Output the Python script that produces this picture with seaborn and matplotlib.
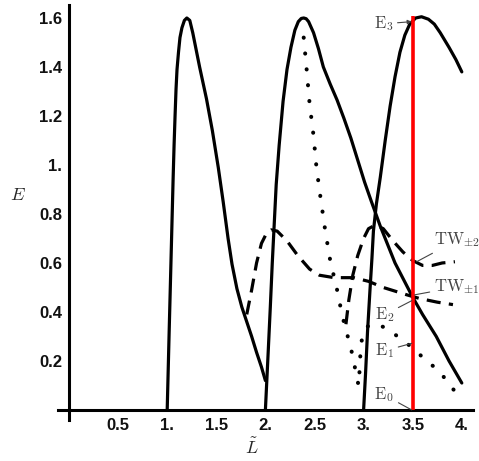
import matplotlib
matplotlib.use("Agg")
import matplotlib.pyplot as plt
import seaborn as sns

# solid branches
hump1_x = [1.0, 1.02, 1.04, 1.06, 1.07, 1.08, 1.09, 1.10, 1.115, 1.13, 1.15, 1.175, 1.20, 1.23,
           1.26, 1.33, 1.40, 1.46, 1.52, 1.57, 1.62, 1.66, 1.71, 1.76, 1.81, 1.86, 1.91, 1.96, 2.0]
hump1_y = [0.0, 0.32, 0.63, 0.94, 1.08, 1.20, 1.31, 1.39, 1.46, 1.52, 1.56, 1.59, 1.60, 1.59,
           1.54, 1.40, 1.27, 1.14, 0.99, 0.85, 0.70, 0.595, 0.495, 0.42, 0.36, 0.30, 0.235, 0.175, 0.12]

hump2_x = [2.0, 2.03, 2.05, 2.07, 2.09, 2.11, 2.14, 2.18, 2.22, 2.26, 2.30, 2.335, 2.365, 2.39,
           2.415, 2.44, 2.49, 2.54, 2.59, 2.66, 2.73, 2.80, 2.87, 2.94, 3.01, 3.08, 3.17, 3.24,
           3.32, 3.41, 3.5, 3.6, 3.74, 3.87, 4.0]
hump2_y = [0.0, 0.25, 0.42, 0.60, 0.76, 0.92, 1.08, 1.26, 1.39, 1.48, 1.55, 1.585, 1.598, 1.60,
           1.597, 1.585, 1.54, 1.475, 1.40, 1.33, 1.265, 1.19, 1.11, 1.02, 0.93, 0.85, 0.75, 0.68,
           0.60, 0.53, 0.46, 0.39, 0.30, 0.20, 0.11]

hump3_x = [3.0, 3.02, 3.04, 3.065, 3.085, 3.10, 3.13, 3.17, 3.22, 3.27, 3.32, 3.37, 3.42, 3.47,
           3.53, 3.59, 3.66, 3.72, 3.78, 3.87, 3.94, 4.0]
hump3_y = [0.0, 0.15, 0.32, 0.49, 0.62, 0.73, 0.84, 0.95, 1.10, 1.24, 1.36, 1.46, 1.53, 1.575,
           1.60, 1.605, 1.595, 1.575, 1.54, 1.48, 1.43, 1.38]

# dotted branch
dot_x = [2.39, 2.42, 2.45, 2.49, 2.52, 2.56, 2.61, 2.66, 2.73, 2.77, 2.81, 2.86, 2.90, 2.93, 2.95,
         2.96, 2.97, 2.99, 3.05, 3.12, 3.23, 3.38, 3.51, 3.64, 3.77, 3.87, 3.97, 4.0]
dot_y = [1.52, 1.39, 1.25, 1.12, 0.99, 0.87, 0.73, 0.61, 0.49, 0.41, 0.34, 0.27, 0.20, 0.13, 0.10,
         0.17, 0.25, 0.31, 0.345, 0.35, 0.335, 0.29, 0.25, 0.20, 0.16, 0.105, 0.057, 0.04]

# dashed travelling waves
tw1_x = [1.81, 1.86, 1.91, 1.96, 2.01, 2.06, 2.12, 2.22, 2.33, 2.45, 2.55, 2.70, 2.90, 3.05,
         3.20, 3.44, 3.57, 3.75, 3.91]
tw1_y = [0.39, 0.49, 0.60, 0.68, 0.72, 0.735, 0.73, 0.69, 0.63, 0.575, 0.55, 0.54, 0.54, 0.525,
         0.50, 0.47, 0.455, 0.44, 0.43]
tw2_x = [2.82, 2.85, 2.89, 2.94, 3.0, 3.05, 3.12, 3.2, 3.3, 3.4, 3.5, 3.6, 3.7, 3.8, 3.93]
tw2_y = [0.35, 0.45, 0.55, 0.63, 0.70, 0.74, 0.755, 0.74, 0.69, 0.645, 0.61, 0.59, 0.59, 0.60, 0.605]

red_x = [3.5]
red_top = 1.61

xticks = [0.5, 1.0, 1.5, 2.0, 2.5, 3.0, 3.5, 4.0]
xlabels = ["0.5", "1.", "1.5", "2.", "2.5", "3.", "3.5", "4."]
yticks = [0.2, 0.4, 0.6, 0.8, 1.0, 1.2, 1.4, 1.6]
ylabels = ["0.2", "0.4", "0.6", "0.8", "1.", "1.2", "1.4", "1.6"]

# label text, arrow target, text position
notes = [
    (r"$\mathrm{E}_3$", (3.49, 1.585), (3.20, 1.576), "center"),
    (r"$\mathrm{TW}_{\pm 2}$", (3.54, 0.605), (3.72, 0.694), "left"),
    (r"$\mathrm{TW}_{\pm 1}$", (3.52, 0.47), (3.72, 0.502), "left"),
    (r"$\mathrm{E}_2$", (3.49, 0.446), (3.21, 0.388), "center"),
    (r"$\mathrm{E}_1$", (3.49, 0.272), (3.21, 0.241), "center"),
    (r"$\mathrm{E}_0$", (3.49, 0.0), (3.21, 0.061), "center"),
]

sns.set_theme(style="white")
plt.rcParams["mathtext.fontset"] = "cm"
plt.rcParams["font.family"] = ["Liberation Sans", "DejaVu Sans"]

fig = plt.figure(figsize=(4.79, 4.61), dpi=100)
ax = fig.add_axes([58 / 479, 41 / 461, 415 / 479, 415 / 461])

lw = 2.3
for xs, ys in [(hump1_x, hump1_y), (hump2_x, hump2_y), (hump3_x, hump3_y)]:
    sns.lineplot(x=xs, y=ys, ax=ax, color="black", lw=lw, sort=False, estimator=None)
for xs, ys in [(tw1_x, tw1_y), (tw2_x, tw2_y)]:
    sns.lineplot(x=xs, y=ys, ax=ax, color="black", lw=lw, sort=False, estimator=None,
                 linestyle=(0, (4.4, 2.6)))
sns.lineplot(x=dot_x, y=dot_y, ax=ax, color="black", lw=2.9, sort=False, estimator=None,
             linestyle=(0, (0.05, 3.9)), dash_capstyle="round")

ax.vlines(red_x, 0, red_top, color="red", lw=2.6, zorder=5)

for txt, xy, xytext, ha in notes:
    ax.annotate(txt, xy=xy, xytext=xytext, ha=ha, va="center", fontsize=12, color="#444444",
                arrowprops=dict(arrowstyle="-|>" if txt.startswith(r"$\mathrm{E}_3") else "-",
                                color="#444444", lw=0.8, mutation_scale=6, shrinkA=1, shrinkB=0),
                zorder=6, annotation_clip=False)

ax.set_xlim(-0.112, 4.114)
ax.set_ylim(-0.041, 1.653)
for side in ["top", "right"]:
    ax.spines[side].set_visible(False)
ax.spines["left"].set_position(("data", 0))
ax.spines["bottom"].set_position(("data", 0))
for side in ["left", "bottom"]:
    ax.spines[side].set_linewidth(2.2)
    ax.spines[side].set_color("black")

ax.set_xticks(xticks)
ax.set_xticklabels(xlabels, fontweight="bold", fontsize=12)
ax.set_yticks(yticks)
ax.set_yticklabels(ylabels, fontweight="bold", fontsize=12)
ax.tick_params(direction="in", length=4, width=1.5, color="black", pad=5, labelcolor="#111111")
ax.tick_params(axis="x", pad=6)
ax.grid(False)

fig.text(18 / 479, 1 - 196 / 461, r"$E$", fontsize=13, ha="center", va="center")
fig.text(252 / 479, 1 - 448 / 461, r"$\tilde{L}$", fontsize=13, ha="center", va="center")

fig.savefig("out.png", dpi=100)
